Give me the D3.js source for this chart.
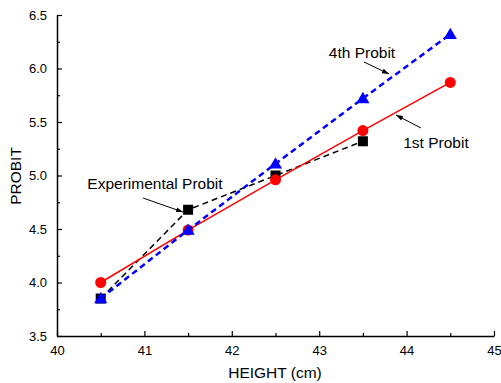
<!DOCTYPE html>
<html>
<head>
<meta charset="utf-8">
<script src="https://cdn.jsdelivr.net/npm/d3@7"></script>
<style>
  body { margin: 0; background: #fff; }
  text { font-family: "Liberation Sans", Arial, sans-serif; }
</style>
</head>
<body>
<div id="chart"></div>
<script>
var heights = [40.5, 41.5, 42.5, 43.5, 44.5];
var expProbit = [3.85, 4.68, 5.00, 5.32];
var firstProbit = [4.00, 4.49, 4.96, 5.42, 5.87];
var fourthProbit = [3.85, 4.49, 5.11, 5.72, 6.32];
var xTicks = [40, 41, 42, 43, 44, 45];
var yTicks = [3.5, 4.0, 4.5, 5.0, 5.5, 6.0, 6.5];

var W = 501, H = 383;
var svg = d3.select('#chart').append('svg')
  .attr('width', W).attr('height', H);

var x = d3.scaleLinear().domain([40, 45]).range([57, 494]);
var y = d3.scaleLinear().domain([3.5, 6.5]).range([336, 15]);

// axes (ticks point inward)
svg.append('g').attr('transform', 'translate(0,336)')
  .call(d3.axisBottom(x).tickValues(xTicks).tickFormat(d3.format('d'))
    .tickSizeInner(-5).tickSizeOuter(0).tickPadding(10));
svg.append('g').attr('transform', 'translate(0,336)')
  .call(d3.axisBottom(x).tickValues(d3.range(40.5, 45, 1)).tickFormat('')
    .tickSizeInner(-3).tickSizeOuter(0))
  .select('.domain').remove();

svg.append('g').attr('transform', 'translate(57,0)')
  .call(d3.axisLeft(y).tickValues(yTicks).tickFormat(d3.format('.1f'))
    .tickSizeInner(-5).tickSizeOuter(0).tickPadding(10));
svg.append('g').attr('transform', 'translate(57,0)')
  .call(d3.axisLeft(y).tickValues(d3.range(3.75, 6.5, 0.5)).tickFormat('')
    .tickSizeInner(-3).tickSizeOuter(0))
  .select('.domain').remove();

svg.selectAll('.domain').attr('stroke', '#000').attr('stroke-width', 1.5);
svg.selectAll('.tick line').attr('stroke', '#000').attr('stroke-width', 1.2);
svg.selectAll('.tick text').attr('font-size', 13).attr('fill', '#000')
  .attr('font-family', '"Liberation Sans", Arial, sans-serif');

// axis titles
svg.append('text').attr('x', 275).attr('y', 378).attr('text-anchor', 'middle')
  .attr('font-size', 15.5).text('HEIGHT (cm)');
svg.append('text').attr('transform', 'translate(21,176) rotate(-90)')
  .attr('text-anchor', 'middle').attr('font-size', 15.5).text('PROBIT');

var line = d3.line().x(function(d) { return x(d[0]); }).y(function(d) { return y(d[1]); });
function pts(vals) { return vals.map(function(v, i) { return [heights[i], v]; }); }

// experimental
var expPts = pts(expProbit);
svg.append('path').attr('d', line(expPts)).attr('fill', 'none')
  .attr('stroke', '#000').attr('stroke-width', 1.5).attr('stroke-dasharray', '6,4');
svg.selectAll('.sq').data(expPts).enter().append('rect')
  .attr('x', function(d) { return x(d[0]) - 5; })
  .attr('y', function(d) { return y(d[1]) - 5; })
  .attr('width', 10).attr('height', 10).attr('fill', '#000');

// 1st probit
var firstPts = pts(firstProbit);
svg.append('path').attr('d', line(firstPts)).attr('fill', 'none')
  .attr('stroke', '#ff0000').attr('stroke-width', 1.5);
svg.selectAll('.ci').data(firstPts).enter().append('circle')
  .attr('cx', function(d) { return x(d[0]); })
  .attr('cy', function(d) { return y(d[1]); })
  .attr('r', 5.5).attr('fill', '#ff0000');

// 4th probit
var fourthPts = pts(fourthProbit);
svg.append('path').attr('d', line(fourthPts)).attr('fill', 'none')
  .attr('stroke', '#0000ff').attr('stroke-width', 2.5).attr('stroke-dasharray', '6,4');
var tri = d3.symbol().type(d3.symbolTriangle).size(75);
svg.selectAll('.tr').data(fourthPts).enter().append('path')
  .attr('d', tri)
  .attr('transform', function(d) { return 'translate(' + x(d[0]) + ',' + (y(d[1]) + 1) + ')'; })
  .attr('fill', '#0000ff');

// annotations
svg.append('defs').append('marker').attr('id', 'ah')
  .attr('viewBox', '0 0 10 10').attr('refX', 10).attr('refY', 5)
  .attr('markerWidth', 7).attr('markerHeight', 7).attr('orient', 'auto')
  .append('path').attr('d', 'M0,1.5L10,5L0,8.5Z').attr('fill', '#000');

var notes = [
  { t: '4th Probit', tx: 362, ty: 58, x1: 364, y1: 62, x2: 389, y2: 74 },
  { t: '1st Probit', tx: 436, ty: 148, x1: 421, y1: 128, x2: 396, y2: 115 },
  { t: 'Experimental Probit', tx: 155, ty: 189, x1: 143, y1: 198, x2: 183, y2: 212 }
];
notes.forEach(function(n) {
  svg.append('text').attr('x', n.tx).attr('y', n.ty).attr('text-anchor', 'middle')
    .attr('font-size', 15.5).text(n.t);
  svg.append('line').attr('x1', n.x1).attr('y1', n.y1).attr('x2', n.x2).attr('y2', n.y2)
    .attr('stroke', '#000').attr('stroke-width', 1).attr('marker-end', 'url(#ah)');
});
</script>
</body>
</html>
